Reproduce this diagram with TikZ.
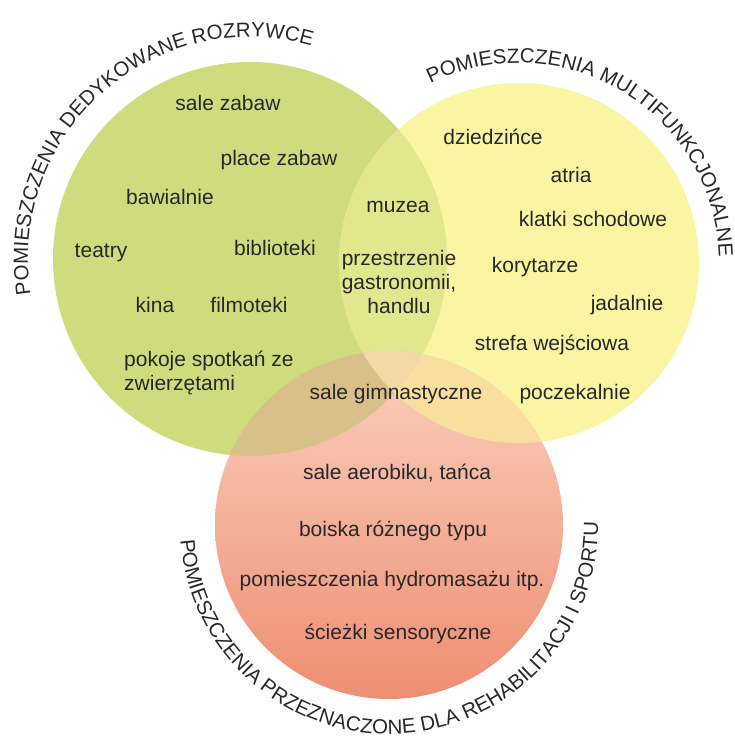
\documentclass[tikz,border=0pt]{standalone}
\usepackage{fontspec}
\setmainfont{Liberation Sans}
\usetikzlibrary{decorations.text}

\definecolor{zielen}{RGB}{206,220,126}
\definecolor{zolty}{RGB}{250,245,163}
\definecolor{zielzol}{RGB}{226,231,142}
\definecolor{rozGora}{RGB}{250,208,190}
\definecolor{rozDol}{RGB}{238,142,114}
\definecolor{zielroz}{RGB}{216,192,136}
\definecolor{zolroz}{RGB}{249,222,160}
\definecolor{srodek}{RGB}{243,216,168}
\definecolor{napis}{RGB}{40,40,40}

\begin{document}
\begin{tikzpicture}[x=1pt,y=-1pt,
	etyk/.style={font=\fontsize{21}{24}\selectfont,text=napis,inner sep=0pt,anchor=mid},
	tytul/.style={decorate,decoration={text along path,text align=center,text color=napis,
		text={|\fontsize{20.5}{24}\selectfont|#1}}}]

	\useasboundingbox (0,0) rectangle (734,738);

	\coordinate (rozr) at (250,259);
	\coordinate (multi) at (519,263);
	\coordinate (sport) at (389,525);

	\fill[zielen] (rozr) circle (197pt);
	\fill[zolty] (multi) circle (180pt);
	\begin{scope}
		\clip (rozr) circle (197pt);
		\fill[zielzol] (multi) circle (180pt);
	\end{scope}
	\shade[top color=rozGora,bottom color=rozDol] (sport) circle (174pt);
	\begin{scope}
		\clip (rozr) circle (197pt);
		\fill[zielroz] (sport) circle (174pt);
	\end{scope}
	\begin{scope}
		\clip (multi) circle (180pt);
		\fill[zolroz] (sport) circle (174pt);
	\end{scope}
	\begin{scope}
		\clip (rozr) circle (197pt);
		\clip (multi) circle (180pt);
		\fill[srodek] (sport) circle (174pt);
	\end{scope}

	\path[tytul={POMIESZCZENIA DEDYKOWANE ROZRYWCE}]
		(rozr) ++(198:222pt) arc[start angle=198,end angle=65,radius=222pt];
	\path[tytul={POMIESZCZENIA MULTIFUNKCJONALNE}]
		(multi) ++(126:200pt) arc[start angle=126,end angle=-8,radius=200pt];
	\path[tytul={POMIESZCZENIA PRZEZNACZONE DLA REHABILITACJI I SPORTU}]
		(sport) ++(175:209pt) arc[start angle=175,end angle=370,radius=209pt];

	\node[etyk] (saleZ) at (228,107.5) {sale zabaw};
	\node[etyk] (placeZ) at (279,162.5) {place zabaw};
	\node[etyk] (bawialnie) at (170,202) {bawialnie};
	\node[etyk] (teatry) at (101,254.5) {teatry};
	\node[etyk] (biblioteki) at (275,253) {biblioteki};
	\node[etyk] (kina) at (155,309.5) {kina};
	\node[etyk] (filmoteki) at (249,309.5) {filmoteki};
	\node[etyk,anchor=west,align=left] (pokoje) at (124,373) {pokoje spotkań ze\\zwierzętami};

	\node[etyk] (muzea) at (398,209.5) {muzea};
	\node[etyk,anchor=center,align=center] (gastro) at (399,282) {przestrzenie\\gastronomii,\\handlu};

	\node[etyk] (dziedz) at (493,141.5) {dziedzińce};
	\node[etyk] (atria) at (571,179.5) {atria};
	\node[etyk] (klatki) at (593,223.5) {klatki schodowe};
	\node[etyk] (korytarze) at (535,269.5) {korytarze};
	\node[etyk] (jadalnie) at (627,308) {jadalnie};
	\node[etyk] (strefa) at (552,347.5) {strefa wejściowa};
	\node[etyk] (poczek) at (575,397) {poczekalnie};

	\node[etyk] (gimn) at (396,396.5) {sale gimnastyczne};

	\node[etyk] (aerobik) at (397,476.5) {sale aerobiku, tańca};
	\node[etyk] (boiska) at (393,533.5) {boiska różnego typu};
	\node[etyk] (hydro) at (392,583.5) {pomieszczenia hydromasażu itp.};
	\node[etyk] (sciezki) at (398,636.5) {ścieżki sensoryczne};

\end{tikzpicture}
\end{document}
